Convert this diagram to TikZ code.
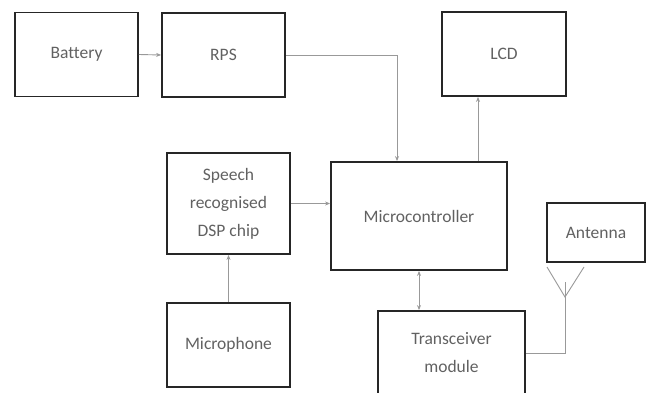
\documentclass[tikz,border=0pt]{standalone}
\usepackage{fontspec}
\setmainfont[Ligatures=NoCommon]{Carlito}
\usetikzlibrary{arrows.meta}
\tikzset{
  blk/.style={draw=black!85,line width=1.8pt,text=black!62,align=center,inner sep=0pt,
    font=\fontsize{17.5}{28}\selectfont},
  wire/.style={draw=black!40,line width=0.9pt},
  arr/.style={wire,-{Stealth[length=5pt,width=4pt]}}
}
\begin{document}
\begin{tikzpicture}[x=1pt,y=-1pt]
  \useasboundingbox (0,0) rectangle (647,393);
  % blocks
  \node[blk,minimum width=123pt,minimum height=84pt] (battery) at (76.5,54.5) {Battery};
  \node[blk,minimum width=123pt,minimum height=84pt] (rps) at (223.5,55) {RPS};
  \node[blk,minimum width=124pt,minimum height=84pt] (lcd) at (504,54) {LCD};
  \node[blk,minimum width=123pt,minimum height=101pt] (speech) at (228.5,203.5) {Speech\\recognised\\DSP chip};
  \node[blk,minimum width=176pt,minimum height=108pt] (micro) at (419,216) {Microcontroller};
  \node[blk,minimum width=123pt,minimum height=84pt] (mic) at (228.5,345) {Microphone};
  \node[blk,minimum width=147pt,minimum height=84pt] (trans) at (451.5,353) {Transceiver\\module};
  \node[blk,minimum width=98pt,minimum height=59pt] (antenna) at (596,232.5) {Antenna};
  % antenna symbol
  \coordinate (anttop) at (565,282);
  \coordinate (antv) at (565,297);
  \coordinate (antl) at (547,267);
  \coordinate (antr) at (584,267);
  \coordinate (rpsbend) at (397,55);
  % connectors
  \draw[arr] (battery.east) -- (rps.west);
  \draw[arr] (rps.east) -- (rpsbend) -- (rpsbend |- micro.north);
  \draw[arr] ([xshift=59pt]micro.north) -- ([xshift=59pt]micro.north |- lcd.south);
  \draw[arr] (speech.east) -- (speech.east -| micro.west);
  \draw[arr] (mic.north) -- (speech.south);
  \draw[wire,{Stealth[length=5pt,width=4pt]}-{Stealth[length=5pt,width=4pt]}] (micro.south) -- (micro.south |- trans.north);
  \draw[wire] (trans.east) -| (anttop);
  \draw[wire] (antl) -- (antv) -- (antr);
\end{tikzpicture}
\end{document}
